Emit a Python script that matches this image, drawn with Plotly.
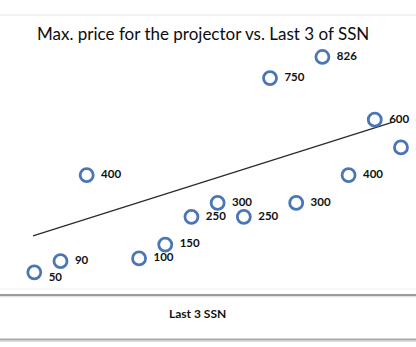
import plotly.graph_objects as go

# ---- data ----
ssn_index = [1, 2, 3, 5, 6, 7, 8, 9, 10, 11, 12, 13, 14, 15]
max_price = [50, 90, 400, 100, 150, 250, 300, 250, 750, 300, 826, 400, 600, 500]
trend_x = [0.95, 14.66]
trend_y = [181, 590]
title_text = "Max. price for the projector vs. Last 3 of SSN"
x_title = "Last 3 SSN"

W, H = 416, 347
FONT = "Lato, 'Liberation Sans', sans-serif"
label_shift = 0.55  # x offset of data labels (axis units)

label_pos = [("bottom right" if i == 0 else "middle right") for i in range(len(max_price))]

fig = go.Figure()

fig.add_trace(go.Scatter(
    x=trend_x, y=trend_y, mode="lines",
    line=dict(color="#2b2b2b", width=1.3),
    hoverinfo="skip", showlegend=False,
))

fig.add_trace(go.Scatter(
    x=ssn_index, y=max_price, mode="markers",
    marker=dict(symbol="circle-open", size=13, color="#4a76b8",
                line=dict(width=2.8, color="#4a76b8")),
    showlegend=False,
))

fig.add_trace(go.Scatter(
    x=[v + label_shift for v in ssn_index], y=max_price, mode="text",
    text=[str(v) for v in max_price], textposition=label_pos,
    textfont=dict(family=FONT, size=11.5, color="#111111", weight="bold"),
    cliponaxis=False, hoverinfo="skip", showlegend=False,
))

def py(p):
    return 1 - p / H

shapes = [
    dict(type="line", xref="paper", yref="paper", x0=0, x1=1, y0=py(15), y1=py(15),
         line=dict(color="#e6e6e6", width=1.2)),
    dict(type="line", xref="paper", yref="paper", x0=0, x1=1, y0=py(289), y1=py(289),
         line=dict(color="#f2f2f2", width=1)),
    dict(type="line", xref="paper", yref="paper", x0=0, x1=1, y0=py(296.5), y1=py(296.5),
         line=dict(color="#e2e2e2", width=1.5)),
    dict(type="line", xref="paper", yref="paper", x0=0, x1=1, y0=py(295), y1=py(295),
         line=dict(color="#7a7a7a", width=1.6)),
    dict(type="line", xref="paper", yref="paper", x0=0, x1=1, y0=py(341), y1=py(341),
         line=dict(color="#dcdcdc", width=2)),
    dict(type="line", xref="paper", yref="paper", x0=0, x1=1, y0=py(339.3), y1=py(339.3),
         line=dict(color="#a8a8a8", width=1.8)),
]

annotations = [
    dict(text=title_text, xref="paper", yref="paper", x=203 / W, y=py(34),
         xanchor="center", yanchor="middle", showarrow=False,
         font=dict(family=FONT, size=17, color="#0d0d0d")),
    dict(text=x_title, xref="paper", yref="paper", x=197 / W, y=py(313),
         xanchor="center", yanchor="middle", showarrow=False,
         font=dict(family=FONT, size=12, color="#111111", weight="bold")),
]

fig.update_layout(
    width=W, height=H,
    margin=dict(l=0, r=0, t=0, b=0),
    paper_bgcolor="white", plot_bgcolor="white",
    xaxis=dict(range=[-0.310, 15.574], visible=False, fixedrange=True),
    yaxis=dict(range=[-219.2, 1031.3], visible=False, fixedrange=True),
    shapes=shapes, annotations=annotations,
    showlegend=False,
)

fig.write_html("out.html")
